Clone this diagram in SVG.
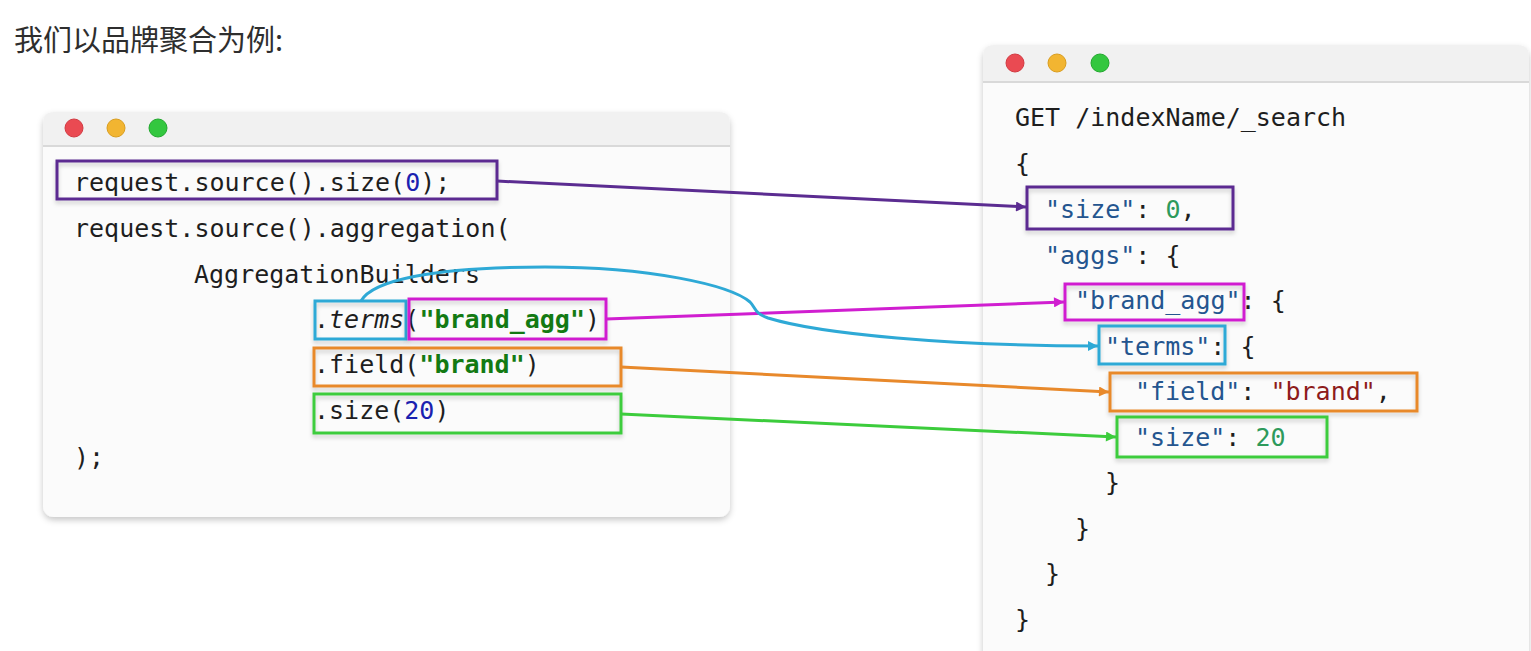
<svg xmlns="http://www.w3.org/2000/svg" width="1531" height="651" viewBox="0 0 1531 651">
  <defs>
    <filter id="winShadow" x="-5%" y="-5%" width="110%" height="115%">
      <feDropShadow dx="0" dy="3" stdDeviation="3" flood-color="#000" flood-opacity="0.22"/>
    </filter>
    <filter id="boxShadow" x="-5%" y="-20%" width="110%" height="150%">
      <feDropShadow dx="0" dy="3" stdDeviation="2" flood-color="#000" flood-opacity="0.18"/>
    </filter>
    <marker id="arrPurple" viewBox="0 0 10 10" refX="10" refY="5" markerWidth="11" markerHeight="10" markerUnits="userSpaceOnUse" orient="auto"><path d="M0 0 L10 5 L0 10 z" fill="#5b2c91"/></marker>
    <marker id="arrMagenta" viewBox="0 0 10 10" refX="10" refY="5" markerWidth="11" markerHeight="10" markerUnits="userSpaceOnUse" orient="auto"><path d="M0 0 L10 5 L0 10 z" fill="#d01ed0"/></marker>
    <marker id="arrCyan" viewBox="0 0 10 10" refX="10" refY="5" markerWidth="11" markerHeight="10" markerUnits="userSpaceOnUse" orient="auto"><path d="M0 0 L10 5 L0 10 z" fill="#2ea9d6"/></marker>
    <marker id="arrOrange" viewBox="0 0 10 10" refX="10" refY="5" markerWidth="11" markerHeight="10" markerUnits="userSpaceOnUse" orient="auto"><path d="M0 0 L10 5 L0 10 z" fill="#e8892b"/></marker>
    <marker id="arrGreen" viewBox="0 0 10 10" refX="10" refY="5" markerWidth="11" markerHeight="10" markerUnits="userSpaceOnUse" orient="auto"><path d="M0 0 L10 5 L0 10 z" fill="#3ccc3c"/></marker>
  </defs>
  <style>
    .title { font-family: "Noto Sans CJK SC", "Noto Sans", sans-serif; font-size: 29px; fill: #2e2e2e; }
    .code { font-family: "DejaVu Sans Mono", "Liberation Mono", monospace; font-size: 25px; fill: #1e1e1e; }
    .win { fill: #fbfbfb; }
    .bar { fill: #f1f1f1; }
    .sep { stroke: #d9d9d9; stroke-width: 2; }
    .red { fill: #ea4a52; stroke: #d23a42; stroke-width: 1; }
    .yellow { fill: #f2b531; stroke: #d99d1e; stroke-width: 1; }
    .green { fill: #33c73f; stroke: #22a82e; stroke-width: 1; }
    .box { fill: none; stroke-width: 3; }
    .conn { fill: none; stroke-width: 3; }
    .cPurple { stroke: #5b2c91; }
    .cMagenta { stroke: #d01ed0; }
    .cCyan { stroke: #2ea9d6; }
    .cOrange { stroke: #e8892b; }
    .cGreen { stroke: #3ccc3c; }
    .str { fill: #137a13; font-weight: bold; }
    .num { fill: #1a22b0; }
    .key { fill: #24558f; }
    .jnum { fill: #2e9a5c; }
    .jstr { fill: #8e1b1b; }
  </style>

  <rect x="0" y="0" width="1531" height="651" fill="#ffffff"/>

  <g id="title">
    <text class="title" x="14" y="51">我们以品牌聚合为例:</text>
  </g>

  <g id="java-window">
    <rect class="win" x="43" y="112" width="687" height="405" rx="11" filter="url(#winShadow)"/>
    <path class="bar" d="M43 146 L43 123 Q43 112 54 112 L719 112 Q730 112 730 123 L730 146 Z"/>
    <line class="sep" x1="43" y1="146" x2="730" y2="146"/>
    <circle class="red" cx="74" cy="128" r="9"/>
    <circle class="yellow" cx="116" cy="128" r="9"/>
    <circle class="green" cx="158" cy="128" r="9"/>
    <text class="code" x="74" y="191">request.source().size(<tspan class="num">0</tspan>);</text>
    <text class="code" x="74" y="237">request.source().aggregation(</text>
    <text class="code" x="194" y="283">AggregationBuilders</text>
    <text class="code" x="314" y="328">.<tspan font-style="italic">terms</tspan>(<tspan class="str">"brand_agg"</tspan>)</text>
    <text class="code" x="314" y="373">.field(<tspan class="str">"brand"</tspan>)</text>
    <text class="code" x="314" y="419">.size(<tspan class="num">20</tspan>)</text>
    <text class="code" x="74" y="466">);</text>
  </g>

  <g id="dsl-window">
    <rect class="win" x="983" y="45" width="546" height="620" rx="11" filter="url(#winShadow)"/>
    <path class="bar" d="M983 82 L983 56 Q983 45 994 45 L1518 45 Q1529 45 1529 56 L1529 82 Z"/>
    <line class="sep" x1="983" y1="82" x2="1529" y2="82"/>
    <circle class="red" cx="1015" cy="63" r="9"/>
    <circle class="yellow" cx="1057" cy="63" r="9"/>
    <circle class="green" cx="1100" cy="63" r="9"/>
    <text class="code" x="1015" y="126">GET /indexName/_search</text>
    <text class="code" x="1015" y="172">{</text>
    <text class="code" x="1045" y="218"><tspan class="key">"size"</tspan>: <tspan class="jnum">0</tspan>,</text>
    <text class="code" x="1045" y="264"><tspan class="key">"aggs"</tspan>: {</text>
    <text class="code" x="1075" y="309"><tspan class="key">"brand_agg"</tspan>: {</text>
    <text class="code" x="1105" y="355"><tspan class="key">"terms"</tspan>: {</text>
    <text class="code" x="1135" y="400"><tspan class="key">"field"</tspan>: <tspan class="jstr">"brand"</tspan>,</text>
    <text class="code" x="1135" y="446"><tspan class="key">"size"</tspan>: <tspan class="jnum">20</tspan></text>
    <text class="code" x="1105" y="491">}</text>
    <text class="code" x="1075" y="537">}</text>
    <text class="code" x="1045" y="582">}</text>
    <text class="code" x="1015" y="628">}</text>
  </g>

  <g id="highlight-boxes">
    <rect id="box-size0-java" class="box cPurple" x="57" y="161" width="440" height="38" filter="url(#boxShadow)"/>
    <rect id="box-terms-java" class="box cCyan" x="315" y="301" width="91" height="38" filter="url(#boxShadow)"/>
    <rect id="box-brandagg-java" class="box cMagenta" x="409" y="299" width="197" height="40" filter="url(#boxShadow)"/>
    <rect id="box-field-java" class="box cOrange" x="314" y="348" width="307" height="38" filter="url(#boxShadow)"/>
    <rect id="box-size20-java" class="box cGreen" x="314" y="394" width="307" height="39" filter="url(#boxShadow)"/>
    <rect id="box-size0-dsl" class="box cPurple" x="1027" y="187" width="206" height="42" filter="url(#boxShadow)"/>
    <rect id="box-brandagg-dsl" class="box cMagenta" x="1065" y="284" width="179" height="36" filter="url(#boxShadow)"/>
    <rect id="box-terms-dsl" class="box cCyan" x="1099" y="326" width="126" height="38" filter="url(#boxShadow)"/>
    <rect id="box-field-dsl" class="box cOrange" x="1110" y="373" width="307" height="38" filter="url(#boxShadow)"/>
    <rect id="box-size20-dsl" class="box cGreen" x="1117" y="417" width="210" height="40" filter="url(#boxShadow)"/>
  </g>

  <g id="connectors">
    <line class="conn cPurple" x1="497" y1="181" x2="1026" y2="207" marker-end="url(#arrPurple)"/>
    <line class="conn cMagenta" x1="606" y1="319" x2="1064" y2="302" marker-end="url(#arrMagenta)"/>
    <path class="conn cCyan" d="M361 301 C372 281, 430 267, 545 267 C650 267, 730 285, 750 302 C756 308, 754 313, 768 318 C820 334, 950 346, 1098 346" marker-end="url(#arrCyan)"/>
    <line class="conn cOrange" x1="621" y1="367" x2="1109" y2="392" marker-end="url(#arrOrange)"/>
    <line class="conn cGreen" x1="621" y1="414" x2="1116" y2="437" marker-end="url(#arrGreen)"/>
  </g>
</svg>
